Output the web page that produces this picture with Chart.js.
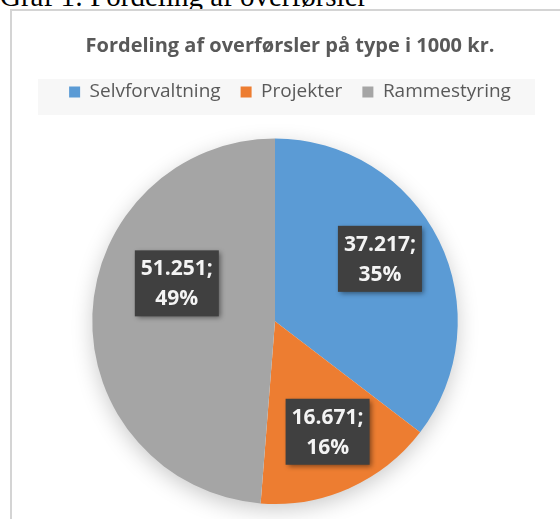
<!DOCTYPE html>
<html>
<head>
<meta charset="utf-8">
<script src="https://cdn.jsdelivr.net/npm/chart.js@4.4.1/dist/chart.umd.min.js"></script>
<style>
  html, body { margin: 0; padding: 0; background: #fff; width: 560px; height: 519px; overflow: hidden; }
  #caption { position: absolute; left: 0; top: -18px; font-family: "Liberation Serif", "Times New Roman", serif; font-size: 29px; color: #000; white-space: nowrap; line-height: 29px; }
  #frame { position: absolute; left: 10px; top: 9px; width: 560px; height: 520px; border-left: 2px solid #d4d4d4; border-top: 2px solid #d4d4d4; background: #fff; }
  #wrap { position: absolute; left: 11px; top: 11px; width: 549px; height: 508px; }
</style>
</head>
<body>
<div id="caption">Graf 1: Fordeling af overførsler</div>
<div id="frame"></div>
<div id="wrap"><canvas id="c"></canvas></div>
<script>
const categories = ["Selvforvaltning", "Projekter", "Rammestyring"];
const values = [37217, 16671, 51251];
const colors = ["#5b9bd5", "#ed7d31", "#a5a5a5"];
const chartTitle = "Fordeling af overførsler på type i 1000 kr.";

const fmt = v => v.toLocaleString('da-DK');

function makeSpacer(position, size) {
  const horizontal = position === 'top' || position === 'bottom';
  return {
    position, weight: 0, fullSize: false,
    options: { stackWeight: 1 },
    left: 0, top: 0, right: 0, bottom: 0, width: 0, height: 0,
    isHorizontal() { return horizontal; },
    update(maxW, maxH) {
      if (horizontal) { this.width = maxW; this.height = size; }
      else { this.width = size; this.height = maxH; }
    },
    draw() {}
  };
}

// spacer boxes: shift the pie a little left of the title/legend centre and leave a gap under the legend
const spacerPlugin = {
  id: 'spacer',
  beforeInit(chart) {
    Chart.layouts.addBox(chart, makeSpacer('right', 30));
    Chart.layouts.addBox(chart, makeSpacer('top', 11));
  },
  beforeUpdate(chart) {
    const lg = chart.legend;
    if (lg && !lg._patched) {
      const orig = lg.fit;
      lg.fit = function () { orig.call(this); this.height += 16; };
      lg._patched = true;
    }
  }
};

const legendBand = {
  id: 'legendBand',
  beforeDraw(chart) {
    const lg = chart.legend;
    if (!lg) return;
    const ctx = chart.ctx;
    const cy = lg.top + 20 + 9.5;
    ctx.save();
    ctx.fillStyle = '#f7f7f7';
    ctx.fillRect(27, cy - 13, 497, 36);
    ctx.restore();
  }
};

const pieShadow = {
  id: 'pieShadow',
  beforeDatasetsDraw(chart) {
    const arc = chart.getDatasetMeta(0).data[0];
    if (!arc) return;
    const ctx = chart.ctx;
    ctx.save();
    ctx.shadowColor = 'rgba(0,0,0,0.22)';
    ctx.shadowBlur = 22;
    ctx.shadowOffsetX = 0;
    ctx.shadowOffsetY = 6;
    ctx.fillStyle = '#ffffff';
    ctx.beginPath();
    ctx.arc(arc.x, arc.y, arc.outerRadius - 1, 0, Math.PI * 2);
    ctx.fill();
    ctx.restore();
  }
};

const boxLabels = {
  id: 'boxLabels',
  afterDatasetsDraw(chart, args, opts) {
    const meta = chart.getDatasetMeta(0);
    const data = chart.data.datasets[0].data;
    const total = data.reduce((a, b) => a + b, 0);
    const ctx = chart.ctx;
    meta.data.forEach((arc, i) => {
      const mid = (arc.startAngle + arc.endAngle) / 2;
      const r = arc.outerRadius * opts.fraction;
      const off = opts.offsets[i] || [0, 0];
      const x = arc.x + Math.cos(mid) * r + off[0];
      const y = arc.y + Math.sin(mid) * r + off[1];
      const l1 = fmt(data[i]) + ';';
      const l2 = Math.round(data[i] / total * 100) + '%';
      ctx.save();
      ctx.font = 'bold 21px "Open Sans", sans-serif';
      const w = Math.max(ctx.measureText(l1).width, ctx.measureText(l2).width) + 12;
      const h = 66;
      ctx.shadowColor = 'rgba(0,0,0,0.45)';
      ctx.shadowBlur = 5;
      ctx.shadowOffsetX = 2;
      ctx.shadowOffsetY = 2;
      ctx.fillStyle = '#404040';
      ctx.fillRect(x - w / 2, y - h / 2, w, h);
      ctx.shadowColor = 'transparent';
      ctx.fillStyle = '#f4f4f4';
      ctx.textAlign = 'center';
      ctx.textBaseline = 'middle';
      ctx.fillText(l1, x, y - 14);
      ctx.fillText(l2, x, y + 16);
      ctx.restore();
    });
  }
};

new Chart(document.getElementById('c'), {
  type: 'pie',
  data: {
    labels: categories,
    datasets: [{
      data: values,
      backgroundColor: colors,
      borderWidth: 0
    }]
  },
  options: {
    responsive: true,
    maintainAspectRatio: false,
    animation: false,
    layout: { padding: { left: 9, right: 0, top: 0, bottom: 15 } },
    plugins: {
      title: {
        display: true,
        text: chartTitle,
        color: '#595959',
        font: { family: '"Open Sans", sans-serif', size: 20, weight: 'bold' },
        padding: { top: 23, bottom: 4.5 }
      },
      legend: {
        display: true,
        position: 'top',
        labels: {
          color: '#595959',
          font: { family: '"Open Sans", sans-serif', size: 19 },
          boxWidth: 11,
          boxHeight: 11,
          padding: 20
        }
      },
      tooltip: { enabled: false },
      boxLabels: { fraction: 0.68, offsets: [[-6.5, -7.4], [2, -3], [26, -33]] }
    }
  },
  plugins: [spacerPlugin, legendBand, pieShadow, boxLabels]
});
</script>
</body>
</html>
